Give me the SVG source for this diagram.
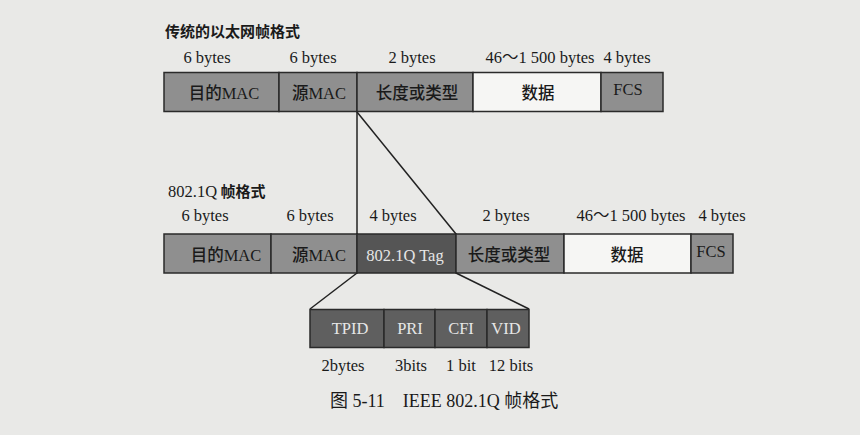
<svg xmlns="http://www.w3.org/2000/svg" width="860" height="435" viewBox="0 0 860 435">
<style>
.bg{fill:#e9e9e7}
.box{stroke:#2a2a2a;stroke-width:1.5}
.g{fill:#8f8f8f}
.w{fill:#f6f6f4}
.d{fill:#555555}
.sd{fill:#5f5f5f}
.t{font-family:"Liberation Serif","Noto Sans CJK SC",serif;font-size:16.5px;fill:#1a1a1a}
.cj{font-family:"Noto Sans CJK SC",sans-serif;font-weight:500}
.lat{font-family:"Liberation Serif",serif}
.m{text-anchor:middle}
.lt{fill:#e6e6e6}
.title{font-family:"Noto Sans CJK SC",sans-serif;font-size:15px;font-weight:bold;fill:#1a1a1a}
.cap{font-family:"Liberation Serif","Noto Sans CJK SC",serif;font-size:18px;fill:#1a1a1a}
.ln{stroke:#222;stroke-width:1.5;fill:none}
</style>
<rect class="bg" x="0" y="0" width="860" height="435"/>

<text class="title" x="165" y="37">传统的以太网帧格式</text>
<g id="top-bytes">
<text class="t m" x="207" y="63">6 bytes</text>
<text class="t m" x="313" y="63">6 bytes</text>
<text class="t m" x="412" y="63">2 bytes</text>
<text class="t m" x="540" y="63">46～1 500 bytes</text>
<text class="t m" x="627" y="63">4 bytes</text>
</g>
<g id="top-frame">
<g id="t-dmac"><rect class="box g" x="164" y="72.5" width="115" height="39"/><text class="t m" x="224" y="99"><tspan class="cj">目的</tspan><tspan class="lat">MAC</tspan></text></g>
<g id="t-smac"><rect class="box g" x="279" y="72.5" width="78" height="39"/><text class="t m" x="319" y="99"><tspan class="cj">源</tspan><tspan class="lat">MAC</tspan></text></g>
<g id="t-len"><rect class="box g" x="357" y="72.5" width="116" height="39"/><text class="t m cj" x="417" y="99">长度或类型</text></g>
<g id="t-data"><rect class="box w" x="473" y="72.5" width="128" height="39"/><text class="t m cj" x="538" y="99">数据</text></g>
<g id="t-fcs"><rect class="box g" x="601" y="72.5" width="62" height="39"/><text class="t m" x="628" y="95">FCS</text></g>
</g>

<text class="title" x="168" y="197"><tspan font-family="Liberation Serif" font-weight="normal" font-size="16.5">802.1Q</tspan> 帧格式</text>
<g id="mid-bytes">
<text class="t m" x="205" y="221">6 bytes</text>
<text class="t m" x="310" y="221">6 bytes</text>
<text class="t m" x="393" y="221">4 bytes</text>
<text class="t m" x="506" y="221">2 bytes</text>
<text class="t m" x="631" y="221">46～1 500 bytes</text>
<text class="t m" x="722" y="221">4 bytes</text>
</g>
<g id="q-frame">
<g id="q-dmac"><rect class="box g" x="164" y="234" width="107" height="39"/><text class="t m" x="226" y="261"><tspan class="cj">目的</tspan><tspan class="lat">MAC</tspan></text></g>
<g id="q-smac"><rect class="box g" x="271" y="234" width="86" height="39"/><text class="t m" x="319" y="261"><tspan class="cj">源</tspan><tspan class="lat">MAC</tspan></text></g>
<g id="q-tag"><rect class="box d" x="357" y="234" width="99" height="39"/><text class="t m lt" x="405" y="261">802.1Q Tag</text></g>
<g id="q-len"><rect class="box g" x="456" y="234" width="108" height="39"/><text class="t m cj" x="509" y="261">长度或类型</text></g>
<g id="q-data"><rect class="box w" x="564" y="234" width="127" height="39"/><text class="t m cj" x="627" y="261">数据</text></g>
<g id="q-fcs"><rect class="box g" x="691" y="234" width="42" height="39"/><text class="t m" x="711" y="257">FCS</text></g>
</g>

<g id="connectors">
<line class="ln" x1="357" y1="112" x2="357" y2="234"/>
<line class="ln" x1="357" y1="112" x2="456" y2="234"/>
<line class="ln" x1="357" y1="273" x2="310" y2="309"/>
<line class="ln" x1="456" y1="273" x2="529" y2="309"/>
</g>

<g id="tag-fields">
<g id="f-tpid"><rect class="box sd" x="310" y="309.5" width="74" height="38"/><text class="t m lt" x="350" y="334">TPID</text></g>
<g id="f-pri"><rect class="box sd" x="384" y="309.5" width="51" height="38"/><text class="t m lt" x="410" y="334">PRI</text></g>
<g id="f-cfi"><rect class="box sd" x="435" y="309.5" width="52" height="38"/><text class="t m lt" x="461" y="334">CFI</text></g>
<g id="f-vid"><rect class="box sd" x="487" y="309.5" width="42" height="38"/><text class="t m lt" x="506" y="334">VID</text></g>
</g>
<g id="tag-sizes">
<text class="t m" x="343" y="371">2bytes</text>
<text class="t m" x="411" y="371">3bits</text>
<text class="t m" x="461" y="371">1 bit</text>
<text class="t m" x="511" y="371">12 bits</text>
</g>
<text class="cap" x="330" y="407" xml:space="preserve">图 5-11    IEEE 802.1Q 帧格式</text>
</svg>
